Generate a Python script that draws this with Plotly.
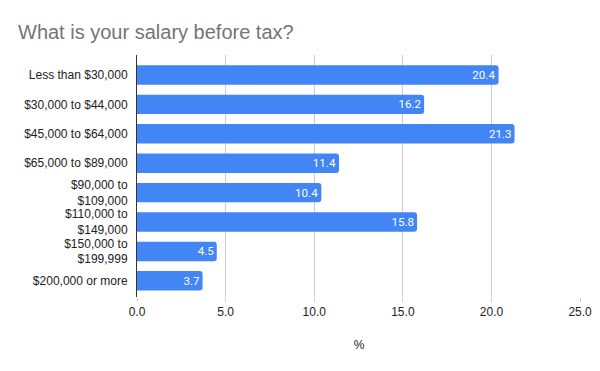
import plotly.graph_objects as go

categories = ["Less than $30,000", "$30,000 to $44,000", "$45,000 to $64,000",
              "$65,000 to $89,000", "$90,000 to<br>$109,000", "$110,000 to<br>$149,000",
              "$150,000 to<br>$199,999", "$200,000 or more"]
values = [20.4, 16.2, 21.3, 11.4, 10.4, 15.8, 4.5, 3.7]
x_ticks = [0, 5, 10, 15, 20, 25]
x_tick_labels = ["0.0", "5.0", "10.0", "15.0", "20.0", "25.0"]

FONT = "Arial, Liberation Sans, sans-serif"

fig = go.Figure(go.Bar(
    x=values, y=categories, orientation="h",
    marker=dict(color="#4285F4", cornerradius=3, line=dict(width=0)),
    width=0.66,
    text=[f"{v:.1f}" for v in values], textposition="inside",
    insidetextanchor="end", textangle=0,
    textfont=dict(color="white", size=13, family="Roboto, Arial, sans-serif"),
))

fig.update_layout(
    width=600, height=371,
    margin=dict(l=137, r=19, t=55, b=74, autoexpand=False),
    paper_bgcolor="white", plot_bgcolor="white",
    font=dict(family=FONT, size=12, color="#222222"),
    title=dict(text="What is your salary before tax?", x=0.03, xanchor="left",
               y=0.915, yanchor="middle",
               font=dict(size=20, color="#757575", family=FONT)),
    showlegend=False,
)
fig.update_xaxes(range=[0, 25.05], tickvals=x_ticks, ticktext=x_tick_labels,
                 showgrid=True, gridcolor="#cccccc", gridwidth=1,
                 zeroline=False, ticks="outside", ticklen=4, tickcolor="#cccccc",
                 automargin=False,
                 title=dict(text="%", standoff=22, font=dict(size=12, color="#222222")),
                 tickfont=dict(size=12, color="#222222"))
fig.update_yaxes(range=[7.55, -0.68], showline=True, linecolor="#333333", linewidth=1,
                 automargin=False,
                 ticks="", tickfont=dict(size=12, color="#222222"), ticklabelstandoff=6)

fig.write_html("out.html", config={"displayModeBar": False},
               post_script="document.body.style.margin='0';")
